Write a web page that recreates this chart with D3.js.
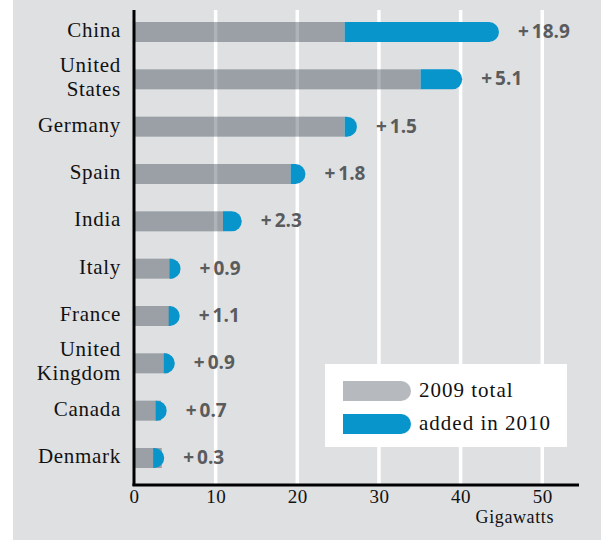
<!DOCTYPE html>
<html>
<head>
<meta charset="UTF-8">
<script src="https://d3js.org/d3.v7.min.js"></script>
<style>
  body { margin: 0; background: #fff; }
  .country, .tick text, .legtext, .unit { font-family: "Liberation Serif", serif; fill: #111; }
  .val { font-family: "Open Sans", sans-serif; font-weight: 700; fill: #5a5b5d; }
</style>
</head>
<body>
<svg></svg>
<script>
// wind power capacity, gigawatts
var countries = ["China", "United States", "Germany", "Spain", "India", "Italy", "France", "United Kingdom", "Canada", "Denmark"];
var total2009 = [25.8, 35.1, 25.8, 19.2, 10.9, 4.8, 4.5, 4.1, 3.3, 3.4];
var added2010 = [18.9, 5.1, 1.5, 1.8, 2.3, 0.9, 1.1, 0.9, 0.7, 0.3];
var tickValues = [0, 10, 20, 30, 40, 50];
var legendLabels = ["2009 total", "added in 2010"];

var width = 601, height = 540;
var svg = d3.select("svg").attr("width", width).attr("height", height);

var rows = countries.map(function(c, i) {
  return {name: c, base: total2009[i], add: added2010[i], total: total2009[i] + added2010[i]};
});

var x = d3.scaleLinear().domain([0, 54.5]).range([134, 579]);
var y = d3.scalePoint().domain(countries).range([32, 458]);
var barH = 20, r = 10;

// background panel
svg.append("rect").attr("x", 13).attr("y", 0).attr("width", width - 13).attr("height", height).attr("fill", "#dfe0e2");

// gridlines
svg.append("g").selectAll("line")
  .data(tickValues.filter(function(d) { return d > 0; }))
  .enter().append("line")
  .attr("x1", function(d) { return x(d); }).attr("x2", function(d) { return x(d); })
  .attr("y1", 10).attr("y2", 484)
  .attr("stroke", "#fff").attr("stroke-width", 3.5);

// 2009 bars (semi transparent, gridlines show through)
svg.append("g").selectAll("rect")
  .data(rows).enter().append("rect")
  .attr("x", x(0))
  .attr("y", function(d) { return y(d.name) - barH / 2; })
  .attr("width", function(d) { return x(d.base) - x(0); })
  .attr("height", barH)
  .attr("fill", "#32404e").attr("fill-opacity", 0.4);

// added in 2010, rounded end
function capPath(x0, x1, yc) {
  var t = yc - barH / 2, b = yc + barH / 2;
  return "M" + x0 + "," + t + "H" + (x1 - r) +
    "A" + r + "," + r + " 0 0,1 " + (x1 - r) + "," + b + "H" + x0 + "Z";
}
svg.append("g").selectAll("path")
  .data(rows).enter().append("path")
  .attr("d", function(d) {
    var xe = x(d.total);
    var xs = Math.min(x(d.base), xe - 11);
    return capPath(xs, xe, y(d.name));
  })
  .attr("fill", "#0895cb");

// value labels
var vals = svg.append("g").selectAll("text")
  .data(rows).enter().append("text")
  .attr("class", "val")
  .attr("x", function(d) { return x(d.total) + 19; })
  .attr("y", function(d) { return y(d.name) + 6; })
  .style("font-size", "19px");
vals.append("tspan").text("+");
vals.append("tspan").attr("dx", 3).text(function(d) { return d.add.toFixed(1); });

// country labels
var labels = svg.append("g").selectAll("text")
  .data(rows).enter().append("text")
  .attr("class", "country")
  .attr("text-anchor", "end")
  .style("font-size", "21px")
  .style("letter-spacing", "0.7px");
labels.each(function(d) {
  var t = d3.select(this);
  var words = d.name.split(" ");
  if (words.length > 1) {
    t.append("tspan").attr("x", 121).attr("y", y(d.name) - 7).text(words[0]);
    t.append("tspan").attr("x", 121).attr("y", y(d.name) + 17).text(words.slice(1).join(" "));
  } else {
    t.append("tspan").attr("x", 121).attr("y", y(d.name) + 5).text(d.name);
  }
});

// axes
svg.append("line").attr("x1", x(0)).attr("x2", x(0)).attr("y1", 10).attr("y2", 486)
  .attr("stroke", "#000").attr("stroke-width", 3);
svg.append("line").attr("x1", x(0) - 1.5).attr("x2", 579).attr("y1", 485).attr("y2", 485)
  .attr("stroke", "#000").attr("stroke-width", 3);

var xAxis = svg.append("g").attr("transform", "translate(0,486)")
  .call(d3.axisBottom(x).tickValues(tickValues).tickSize(0).tickPadding(3));
xAxis.select(".domain").remove();
xAxis.selectAll("text").style("font-size", "19px").style("letter-spacing", "0.5px").attr("fill", "#111");

svg.append("text").attr("class", "unit").attr("x", 554).attr("y", 523)
  .attr("text-anchor", "end").style("font-size", "18px").style("letter-spacing", "0.6px").text("Gigawatts");

// legend
var leg = svg.append("g");
leg.append("rect").attr("x", 325).attr("y", 364).attr("width", 242).attr("height", 83).attr("fill", "#fff");
var legColors = ["#b6b9be", "#0895cb"];
legendLabels.forEach(function(l, i) {
  var yc = 391 + i * 33;
  leg.append("path").attr("d", capPath(343, 411, yc)).attr("fill", legColors[i]);
  leg.append("text").attr("class", "legtext").attr("x", 419).attr("y", yc + 6)
    .style("font-size", "21px").style("letter-spacing", "1px").text(l);
});
</script>
</body>
</html>
